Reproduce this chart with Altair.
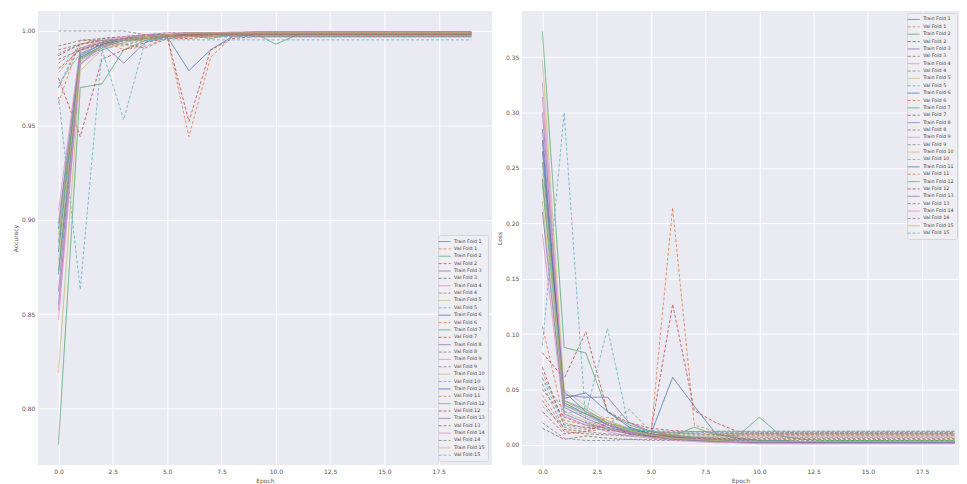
import altair as alt
import pandas as pd

EPOCHS = list(range(20))
FOLDS = list(range(1, 16))
PALETTE = ["#4C72B0", "#DD8452", "#55A868", "#C44E52", "#8172B3",
           "#937860", "#DA8BC3", "#8C8C8C", "#CCB974", "#64B5CD"]

TRAIN_ACC = [
    [0.895, 0.985, 0.992, 0.995, 0.997, 0.997, 0.979, 0.990, 0.997, 0.998, 0.999, 0.999, 0.999, 0.999, 0.999, 0.999, 0.999, 0.999, 0.999, 0.999],
    [0.781, 0.970, 0.972, 0.990, 0.995, 0.997, 0.998, 0.998, 0.999, 0.999, 0.999, 0.999, 0.9995, 0.9995, 0.9995, 0.9995, 0.9995, 0.9995, 0.9995, 0.9995],
    [0.855, 0.982, 0.993, 0.983, 0.994, 0.997, 0.998, 0.998, 0.999, 0.999, 0.999, 0.999, 0.999, 0.999, 0.999, 0.999, 0.999, 0.999, 0.999, 0.999],
    [0.847, 0.983, 0.990, 0.994, 0.996, 0.997, 0.998, 0.999, 0.999, 0.999, 0.9995, 0.9995, 0.9995, 0.9995, 0.9995, 0.9995, 0.9995, 0.9995, 0.9995, 0.9995],
    [0.819, 0.979, 0.990, 0.994, 0.996, 0.998, 0.998, 0.999, 0.999, 0.999, 0.999, 0.999, 0.999, 0.999, 0.999, 0.999, 0.999, 0.999, 0.999, 0.999],
    [0.871, 0.986, 0.992, 0.995, 0.997, 0.998, 0.998, 0.999, 0.999, 0.999, 0.999, 0.999, 0.999, 0.999, 0.999, 0.999, 0.999, 0.999, 0.999, 0.999],
    [0.873, 0.985, 0.991, 0.995, 0.996, 0.997, 0.998, 0.996, 0.998, 0.999, 0.993, 0.998, 0.999, 0.999, 0.999, 0.999, 0.999, 0.999, 0.999, 0.999],
    [0.862, 0.988, 0.993, 0.996, 0.997, 0.998, 0.999, 0.999, 0.999, 0.9995, 0.9995, 0.9995, 0.9995, 0.9995, 0.9995, 0.9995, 0.9995, 0.9995, 0.9995, 0.9995],
    [0.852, 0.984, 0.991, 0.995, 0.997, 0.998, 0.998, 0.999, 0.999, 0.999, 0.999, 0.999, 0.999, 0.999, 0.999, 0.999, 0.999, 0.999, 0.999, 0.999],
    [0.892, 0.989, 0.994, 0.996, 0.997, 0.998, 0.999, 0.999, 0.999, 0.999, 0.999, 0.999, 0.999, 0.999, 0.999, 0.999, 0.999, 0.999, 0.999, 0.999],
    [0.883, 0.987, 0.993, 0.995, 0.997, 0.998, 0.999, 0.999, 0.999, 0.999, 0.999, 0.999, 0.999, 0.999, 0.999, 0.999, 0.999, 0.999, 0.999, 0.999],
    [0.888, 0.986, 0.992, 0.995, 0.997, 0.998, 0.998, 0.999, 0.999, 0.999, 0.999, 0.999, 0.999, 0.999, 0.999, 0.999, 0.999, 0.999, 0.999, 0.999],
    [0.898, 0.990, 0.994, 0.996, 0.998, 0.998, 0.999, 0.999, 0.999, 0.9995, 0.9995, 0.9995, 0.9995, 0.9995, 0.9995, 0.9995, 0.9995, 0.9995, 0.9995, 0.9995],
    [0.905, 0.991, 0.995, 0.997, 0.998, 0.999, 0.999, 0.999, 0.9995, 0.9995, 0.9995, 0.9995, 0.9995, 0.9995, 0.9995, 0.9995, 0.9995, 0.9995, 0.9995, 0.9995],
    [0.878, 0.985, 0.992, 0.995, 0.997, 0.998, 0.999, 0.999, 0.999, 0.999, 0.999, 0.999, 0.999, 0.999, 0.999, 0.999, 0.999, 0.999, 0.999, 0.999],
]

VAL_ACC = [
    [0.962, 0.995, 0.995, 0.995, 0.995, 0.997, 0.944, 0.986, 0.997, 0.998, 0.998, 0.998, 0.998, 0.998, 0.998, 0.998, 0.998, 0.998, 0.998, 0.998],
    [0.975, 0.944, 0.985, 0.990, 0.994, 0.996, 0.996, 0.997, 0.997, 0.997, 0.997, 0.997, 0.997, 0.997, 0.997, 0.997, 0.997, 0.997, 0.997, 0.997],
    [0.985, 0.990, 0.993, 0.995, 0.996, 0.997, 0.997, 0.998, 0.998, 0.998, 0.998, 0.998, 0.998, 0.998, 0.998, 0.998, 0.998, 0.998, 0.998, 0.998],
    [1.000, 1.000, 1.000, 1.000, 0.998, 0.999, 0.999, 0.999, 0.999, 0.999, 0.999, 0.999, 0.999, 0.999, 0.999, 0.999, 0.999, 0.999, 0.999, 0.999],
    [0.965, 0.863, 0.990, 0.993, 0.995, 0.996, 0.997, 0.997, 0.997, 0.997, 0.997, 0.997, 0.997, 0.997, 0.997, 0.997, 0.997, 0.997, 0.997, 0.997],
    [0.970, 0.993, 0.995, 0.990, 0.992, 0.996, 0.997, 0.997, 0.998, 0.998, 0.998, 0.998, 0.998, 0.998, 0.998, 0.998, 0.998, 0.998, 0.998, 0.998],
    [0.980, 0.990, 0.993, 0.995, 0.996, 0.997, 0.952, 0.990, 0.996, 0.997, 0.997, 0.997, 0.997, 0.997, 0.997, 0.997, 0.997, 0.997, 0.997, 0.997],
    [0.990, 0.993, 0.996, 0.997, 0.998, 0.998, 0.998, 0.998, 0.998, 0.998, 0.998, 0.998, 0.998, 0.998, 0.998, 0.998, 0.998, 0.998, 0.998, 0.998],
    [0.983, 0.991, 0.994, 0.996, 0.997, 0.998, 0.998, 0.998, 0.998, 0.998, 0.998, 0.998, 0.998, 0.998, 0.998, 0.998, 0.998, 0.998, 0.998, 0.998],
    [0.972, 0.988, 0.990, 0.953, 0.995, 0.996, 0.997, 0.997, 0.997, 0.997, 0.997, 0.997, 0.997, 0.997, 0.997, 0.997, 0.997, 0.997, 0.997, 0.997],
    [0.978, 0.991, 0.994, 0.992, 0.996, 0.997, 0.997, 0.997, 0.998, 0.998, 0.998, 0.998, 0.998, 0.998, 0.998, 0.998, 0.998, 0.998, 0.998, 0.998],
    [0.987, 0.993, 0.995, 0.996, 0.997, 0.998, 0.998, 0.998, 0.998, 0.998, 0.998, 0.998, 0.998, 0.998, 0.998, 0.998, 0.998, 0.998, 0.998, 0.998],
    [0.992, 0.995, 0.996, 0.997, 0.998, 0.998, 0.998, 0.998, 0.999, 0.999, 0.999, 0.999, 0.999, 0.999, 0.999, 0.999, 0.999, 0.999, 0.999, 0.999],
    [0.988, 0.993, 0.995, 0.993, 0.991, 0.996, 0.998, 0.998, 0.998, 0.998, 0.998, 0.998, 0.998, 0.998, 0.998, 0.998, 0.998, 0.998, 0.998, 0.998],
    [0.970, 0.9953, 0.9953, 0.9953, 0.9953, 0.9953, 0.9953, 0.9953, 0.9953, 0.9953, 0.9953, 0.9953, 0.9953, 0.9953, 0.9953, 0.9953, 0.9953, 0.9953, 0.9953, 0.9953],
]

TRAIN_LOSS = [
    [0.240, 0.048, 0.030, 0.018, 0.012, 0.010, 0.061, 0.035, 0.010, 0.006, 0.004, 0.004, 0.003, 0.003, 0.003, 0.003, 0.003, 0.003, 0.003, 0.003],
    [0.373, 0.088, 0.083, 0.030, 0.018, 0.012, 0.009, 0.007, 0.006, 0.005, 0.004, 0.004, 0.003, 0.003, 0.003, 0.003, 0.003, 0.003, 0.003, 0.003],
    [0.300, 0.045, 0.043, 0.043, 0.020, 0.012, 0.008, 0.006, 0.005, 0.004, 0.003, 0.003, 0.002, 0.002, 0.002, 0.002, 0.002, 0.002, 0.002, 0.002],
    [0.327, 0.040, 0.030, 0.022, 0.015, 0.010, 0.008, 0.005, 0.004, 0.003, 0.003, 0.002, 0.002, 0.002, 0.002, 0.002, 0.002, 0.002, 0.002, 0.002],
    [0.347, 0.050, 0.035, 0.022, 0.014, 0.009, 0.006, 0.005, 0.004, 0.003, 0.003, 0.003, 0.003, 0.003, 0.003, 0.003, 0.003, 0.003, 0.003, 0.003],
    [0.275, 0.038, 0.028, 0.018, 0.012, 0.008, 0.006, 0.005, 0.004, 0.003, 0.003, 0.003, 0.003, 0.003, 0.003, 0.003, 0.003, 0.003, 0.003, 0.003],
    [0.255, 0.040, 0.032, 0.020, 0.014, 0.010, 0.008, 0.016, 0.009, 0.008, 0.025, 0.008, 0.005, 0.004, 0.004, 0.004, 0.004, 0.004, 0.004, 0.004],
    [0.285, 0.034, 0.024, 0.016, 0.011, 0.008, 0.006, 0.004, 0.003, 0.003, 0.002, 0.002, 0.002, 0.002, 0.002, 0.002, 0.002, 0.002, 0.002, 0.002],
    [0.314, 0.036, 0.026, 0.018, 0.012, 0.009, 0.006, 0.005, 0.004, 0.003, 0.003, 0.003, 0.003, 0.003, 0.003, 0.003, 0.003, 0.003, 0.003, 0.003],
    [0.220, 0.030, 0.022, 0.015, 0.010, 0.007, 0.005, 0.004, 0.003, 0.003, 0.003, 0.003, 0.003, 0.003, 0.003, 0.003, 0.003, 0.003, 0.003, 0.003],
    [0.265, 0.042, 0.047, 0.030, 0.016, 0.010, 0.007, 0.005, 0.004, 0.003, 0.003, 0.003, 0.003, 0.003, 0.003, 0.003, 0.003, 0.003, 0.003, 0.003],
    [0.235, 0.036, 0.028, 0.020, 0.013, 0.009, 0.007, 0.005, 0.004, 0.003, 0.003, 0.003, 0.003, 0.003, 0.003, 0.003, 0.003, 0.003, 0.003, 0.003],
    [0.210, 0.028, 0.020, 0.014, 0.010, 0.007, 0.005, 0.004, 0.003, 0.002, 0.002, 0.002, 0.002, 0.002, 0.002, 0.002, 0.002, 0.002, 0.002, 0.002],
    [0.190, 0.026, 0.018, 0.012, 0.008, 0.006, 0.004, 0.003, 0.002, 0.002, 0.001, 0.001, 0.001, 0.001, 0.001, 0.001, 0.001, 0.001, 0.001, 0.001],
    [0.245, 0.040, 0.030, 0.020, 0.013, 0.009, 0.006, 0.005, 0.004, 0.003, 0.003, 0.003, 0.003, 0.003, 0.003, 0.003, 0.003, 0.003, 0.003, 0.003],
]

VAL_LOSS = [
    [0.107, 0.022, 0.018, 0.016, 0.014, 0.010, 0.214, 0.018, 0.012, 0.011, 0.011, 0.011, 0.011, 0.011, 0.011, 0.011, 0.011, 0.011, 0.011, 0.011],
    [0.083, 0.060, 0.102, 0.030, 0.020, 0.015, 0.013, 0.012, 0.011, 0.010, 0.010, 0.010, 0.010, 0.010, 0.010, 0.010, 0.010, 0.010, 0.010, 0.010],
    [0.050, 0.025, 0.018, 0.015, 0.013, 0.012, 0.011, 0.010, 0.009, 0.009, 0.009, 0.009, 0.009, 0.009, 0.009, 0.009, 0.009, 0.009, 0.009, 0.009],
    [0.020, 0.006, 0.004, 0.004, 0.005, 0.004, 0.004, 0.004, 0.004, 0.004, 0.004, 0.004, 0.004, 0.004, 0.004, 0.004, 0.004, 0.004, 0.004, 0.004],
    [0.090, 0.300, 0.020, 0.020, 0.015, 0.012, 0.012, 0.012, 0.0125, 0.0125, 0.0125, 0.0125, 0.0125, 0.0125, 0.0125, 0.0125, 0.0125, 0.0125, 0.0125, 0.0125],
    [0.065, 0.020, 0.015, 0.025, 0.020, 0.012, 0.011, 0.012, 0.012, 0.012, 0.012, 0.012, 0.012, 0.012, 0.012, 0.012, 0.012, 0.012, 0.012, 0.012],
    [0.070, 0.018, 0.016, 0.013, 0.012, 0.012, 0.127, 0.031, 0.020, 0.012, 0.011, 0.011, 0.011, 0.011, 0.011, 0.011, 0.011, 0.011, 0.011, 0.011],
    [0.040, 0.012, 0.010, 0.009, 0.008, 0.008, 0.007, 0.007, 0.007, 0.007, 0.007, 0.007, 0.007, 0.007, 0.007, 0.007, 0.007, 0.007, 0.007, 0.007],
    [0.055, 0.014, 0.012, 0.010, 0.009, 0.009, 0.008, 0.008, 0.008, 0.008, 0.008, 0.008, 0.008, 0.008, 0.008, 0.008, 0.008, 0.008, 0.008, 0.008],
    [0.060, 0.030, 0.028, 0.105, 0.015, 0.012, 0.011, 0.011, 0.011, 0.011, 0.011, 0.011, 0.011, 0.011, 0.011, 0.011, 0.011, 0.011, 0.011, 0.011],
    [0.045, 0.014, 0.012, 0.015, 0.010, 0.010, 0.009, 0.009, 0.009, 0.009, 0.009, 0.009, 0.009, 0.009, 0.009, 0.009, 0.009, 0.009, 0.009, 0.009],
    [0.030, 0.010, 0.012, 0.020, 0.010, 0.008, 0.007, 0.006, 0.006, 0.006, 0.006, 0.006, 0.006, 0.006, 0.006, 0.006, 0.006, 0.006, 0.006, 0.006],
    [0.015, 0.005, 0.008, 0.006, 0.005, 0.005, 0.005, 0.005, 0.005, 0.005, 0.005, 0.005, 0.005, 0.005, 0.005, 0.005, 0.005, 0.005, 0.005, 0.005],
    [0.035, 0.016, 0.014, 0.018, 0.032, 0.012, 0.010, 0.010, 0.010, 0.010, 0.010, 0.010, 0.010, 0.010, 0.010, 0.010, 0.010, 0.010, 0.010, 0.010],
    [0.060, 0.018, 0.016, 0.015, 0.014, 0.013, 0.012, 0.012, 0.012, 0.012, 0.012, 0.012, 0.012, 0.012, 0.012, 0.012, 0.012, 0.012, 0.012, 0.012],
]

X_TICKS = [0.0, 2.5, 5.0, 7.5, 10.0, 12.5, 15.0, 17.5]
ACC_TICKS = [0.80, 0.85, 0.90, 0.95, 1.00]
LOSS_TICKS = [0.00, 0.05, 0.10, 0.15, 0.20, 0.25, 0.30, 0.35]

rows = []
names = []
for i, f in enumerate(FOLDS):
    for kind, acc, loss in (("Train", TRAIN_ACC[i], TRAIN_LOSS[i]),
                            ("Val", VAL_ACC[i], VAL_LOSS[i])):
        name = f"{kind} Fold {f}"
        names.append(name)
        for e, a, l in zip(EPOCHS, acc, loss):
            rows.append({"epoch": e, "series": name, "acc": a, "loss": l})
df = pd.DataFrame(rows)

colors = [PALETTE[k % 10] for k in range(len(names))]
dashes = [[1, 0] if n.startswith("Train") else [3, 2] for n in names]

FONT = "DejaVu Sans"


def make_legend(orient, offset):
    return alt.Legend(
        title=None, orient=orient, offset=offset,
        labelFontSize=4.8, labelFont=FONT, labelColor="#444444",
        symbolType="M-2,0H2", symbolSize=36, symbolStrokeWidth=1,
        rowPadding=1.4, padding=3, labelOffset=6,
        fillColor="#EEEEF3", strokeColor="#D5D5DD", cornerRadius=2,
        labelLimit=60,
    )


def panel(field, title, domain, ticks, xdomain, width, legend):
    return alt.Chart(df).mark_line(strokeWidth=1, opacity=0.85, clip=True).encode(
        x=alt.X("epoch:Q", title="Epoch",
                scale=alt.Scale(domain=xdomain, nice=False, zero=False),
                axis=alt.Axis(values=X_TICKS, format=".1f")),
        y=alt.Y(f"{field}:Q", title=title,
                scale=alt.Scale(domain=domain, nice=False, zero=False),
                axis=alt.Axis(values=ticks, format=".2f")),
        color=alt.Color("series:N", sort=names,
                        scale=alt.Scale(domain=names, range=colors),
                        legend=legend),
        strokeDash=alt.StrokeDash("series:N", sort=names,
                                  scale=alt.Scale(domain=names, range=dashes),
                                  legend=legend),
    ).properties(width=width, height=456)


left = panel("acc", "Accuracy", [0.770, 1.0106], ACC_TICKS, [-0.95, 19.95], 456,
             make_legend("bottom-right", 4))
right = panel("loss", "Loss", [-0.0182, 0.3916], LOSS_TICKS, [-0.95, 19.2], 439,
              make_legend("top-right", 2))

chart = alt.hconcat(left, right, spacing=4).resolve_scale(
    color="independent", strokeDash="independent"
).resolve_legend(
    color="independent", strokeDash="independent"
).properties(
    padding={"left": 4, "top": 2, "right": 0, "bottom": 0}
).configure_view(
    fill="#EAEAF2", stroke=None
).configure_axis(
    grid=True, gridColor="#FFFFFF", gridWidth=1, domain=False, ticks=False,
    labelFontSize=6, titleFontSize=6, labelFont=FONT, titleFont=FONT,
    labelColor="#555555", titleColor="#555555", labelPadding=3,
    titlePadding=3, titleFontWeight="normal",
)

chart.save("out.html", embed_options={"renderer": "svg", "actions": False})
